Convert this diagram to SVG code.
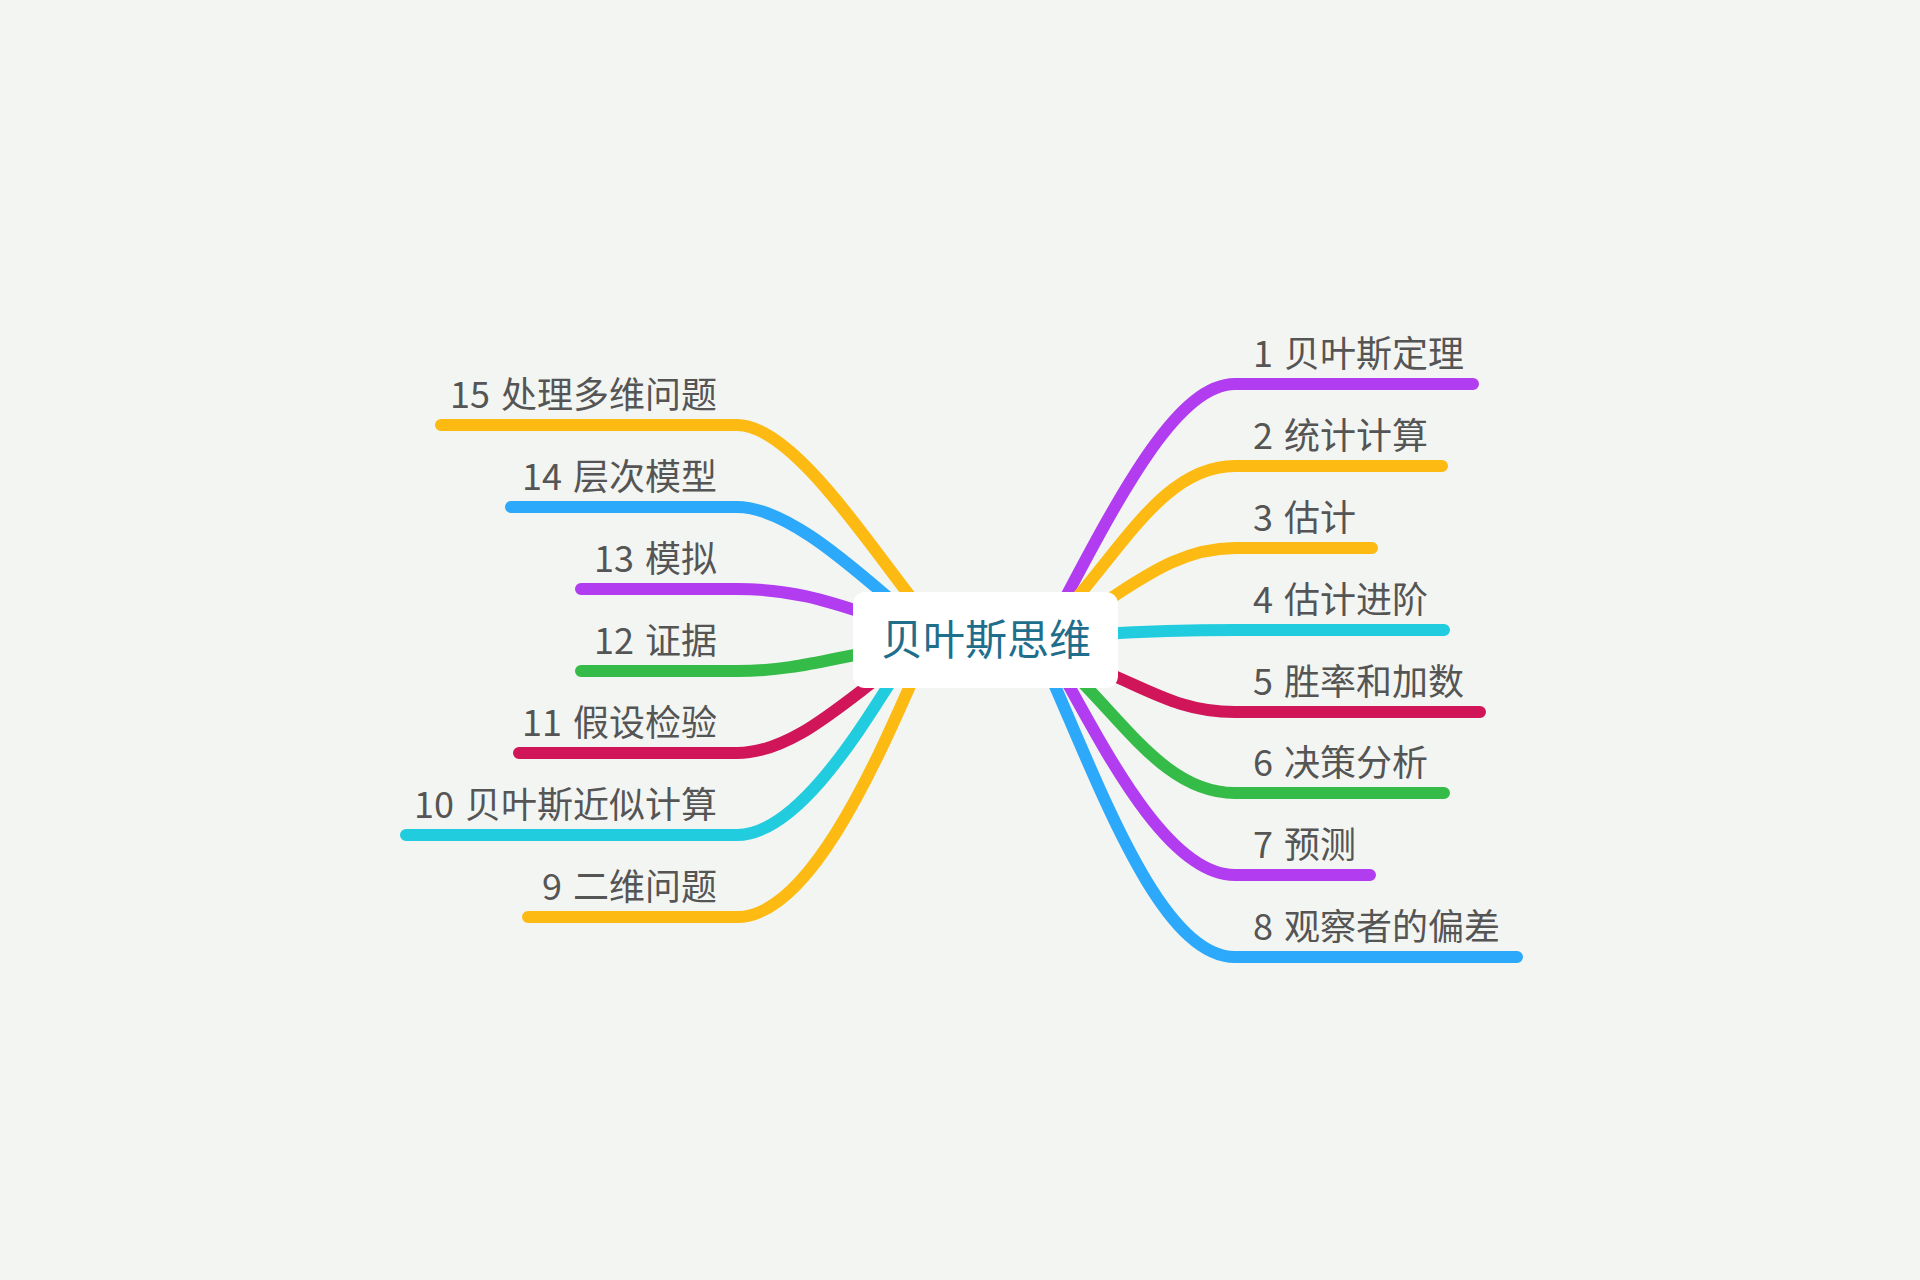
<svg xmlns="http://www.w3.org/2000/svg" width="1920" height="1280" viewBox="0 0 1920 1280">
<style>
.bg{fill:#F3F5F2}
.c{fill:none;stroke-width:12;stroke-linecap:round;stroke-linejoin:round}
.lbl{font-family:"Noto Sans CJK SC","Noto Sans",sans-serif;font-size:36px;fill:#555555}
.l{text-anchor:end}
.root{font-family:"Noto Sans CJK SC","Noto Sans",sans-serif;font-size:42px;fill:#1F6E8C;text-anchor:middle}
.purple{stroke:#B23CEF}.yellow{stroke:#FDBA12}.blue{stroke:#2CA9FA}.cyan{stroke:#22CCDF}.red{stroke:#D11559}.green{stroke:#35BB48}
</style>
<rect class="bg" x="0" y="0" width="1920" height="1280"/>
<g id="connectors">
<path class="c purple" d="M1058 612 C1126 482 1180 384 1235 384 L1473 384"/>
<path class="c yellow" d="M1075 600 C1130 535 1170 466 1235 466 L1442 466"/>
<path class="c yellow" d="M1100 605 C1140 580 1180 548 1235 548 L1372 548"/>
<path class="c cyan" d="M1100 634 C1150 631 1190 630 1235 630 L1444 630"/>
<path class="c red" d="M1100 670 C1150 690 1180 712 1235 712 L1480 712"/>
<path class="c green" d="M1075 675 C1130 730 1170 793 1235 793 L1444 793"/>
<path class="c purple" d="M1063 675 C1110 760 1170 875 1235 875 L1370 875"/>
<path class="c blue" d="M1048 670 C1103 795 1162 957 1235 957 L1517 957"/>
<path class="c yellow" d="M925 615 C875 555 795 425 737 425 L441 425"/>
<path class="c blue" d="M897 605 C855 570 788 507 737 507 L511 507"/>
<path class="c purple" d="M870 615 C825 600 790 589 737 589 L581 589"/>
<path class="c green" d="M870 652 C825 660 790 671 737 671 L581 671"/>
<path class="c red" d="M882 675 C835 710 788 753 737 753 L519 753"/>
<path class="c cyan" d="M897 672 C863 725 798 835 737 835 L406 835"/>
<path class="c yellow" d="M917 670 C873 770 808 917 737 917 L528 917"/>
</g>
<g id="root">
<rect x="853" y="592" width="265" height="96" rx="12" fill="#FFFFFF"/>
<text class="root" x="986" y="655">贝叶斯思维</text>
</g>
<g id="n1"><text class="lbl" x="1253" y="367">1 <tspan dx="3">贝叶斯定理</tspan></text></g>
<g id="n2"><text class="lbl" x="1253" y="449">2 <tspan dx="3">统计计算</tspan></text></g>
<g id="n3"><text class="lbl" x="1253" y="531">3 <tspan dx="3">估计</tspan></text></g>
<g id="n4"><text class="lbl" x="1253" y="613">4 <tspan dx="3">估计进阶</tspan></text></g>
<g id="n5"><text class="lbl" x="1253" y="695">5 <tspan dx="3">胜率和加数</tspan></text></g>
<g id="n6"><text class="lbl" x="1253" y="776">6 <tspan dx="3">决策分析</tspan></text></g>
<g id="n7"><text class="lbl" x="1253" y="858">7 <tspan dx="3">预测</tspan></text></g>
<g id="n8"><text class="lbl" x="1253" y="940">8 <tspan dx="3">观察者的偏差</tspan></text></g>
<g id="n9"><text class="lbl l" x="717" y="900">9 <tspan dx="3">二维问题</tspan></text></g>
<g id="n10"><text class="lbl l" x="717" y="818">10 <tspan dx="3">贝叶斯近似计算</tspan></text></g>
<g id="n11"><text class="lbl l" x="717" y="736">11 <tspan dx="3">假设检验</tspan></text></g>
<g id="n12"><text class="lbl l" x="717" y="654">12 <tspan dx="3">证据</tspan></text></g>
<g id="n13"><text class="lbl l" x="717" y="572">13 <tspan dx="3">模拟</tspan></text></g>
<g id="n14"><text class="lbl l" x="717" y="490">14 <tspan dx="3">层次模型</tspan></text></g>
<g id="n15"><text class="lbl l" x="717" y="408">15 <tspan dx="3">处理多维问题</tspan></text></g>
</svg>
